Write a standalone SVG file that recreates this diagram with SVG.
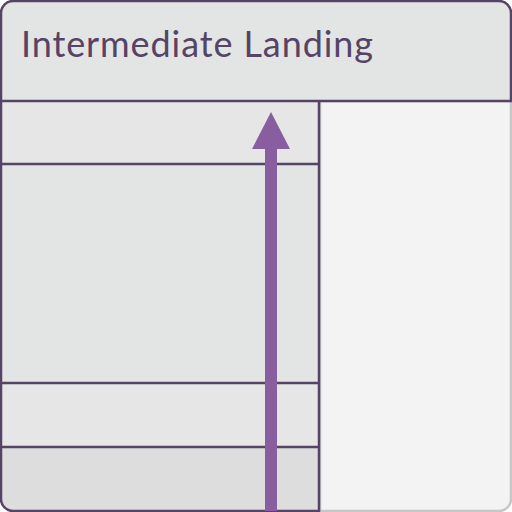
<svg xmlns="http://www.w3.org/2000/svg" width="512" height="512" viewBox="0 0 512 512">
<style>
.dk{stroke:#554466;stroke-width:2.5}
.title{font-family:Lato,"Noto Sans",sans-serif;font-size:36px;fill:#554466}
</style>
<g id="right-panel">
<path d="M320 101 H511 V499 A12 12 0 0 1 499 511 H320 Z" fill="#f3f3f3" stroke="#c6c6c6" stroke-width="2.5"/>
</g>
<g id="left-column">
<rect x="1" y="101" width="318" height="63" fill="#e6e6e6"/>
<rect x="1" y="164" width="318" height="219" fill="#e3e5e4"/>
<rect x="1" y="383" width="318" height="64" fill="#e6e6e6"/>
<path d="M1 447 H319 V511 H13 A12 12 0 0 1 1 499 Z" fill="#dddddd"/>
<path d="M1 101 V499 A12 12 0 0 0 13 511 H319 V101" fill="none" class="dk"/>
<line x1="1" y1="164" x2="319" y2="164" class="dk"/>
<line x1="1" y1="383" x2="319" y2="383" class="dk"/>
<line x1="1" y1="447" x2="319" y2="447" class="dk"/>
</g>
<g id="header">
<path d="M1 101 V13 A12 12 0 0 1 13 1 H499 A12 12 0 0 1 511 13 V101 Z" fill="#e3e5e4" class="dk"/>
<text x="21" y="57" class="title" textLength="352" lengthAdjust="spacing">Intermediate Landing</text>
</g>
<g id="connectors">
<path d="M265 511 V149 H252 L271 112 L290 149 H277 V511 Z" fill="#885ea0"/>
</g>
</svg>
